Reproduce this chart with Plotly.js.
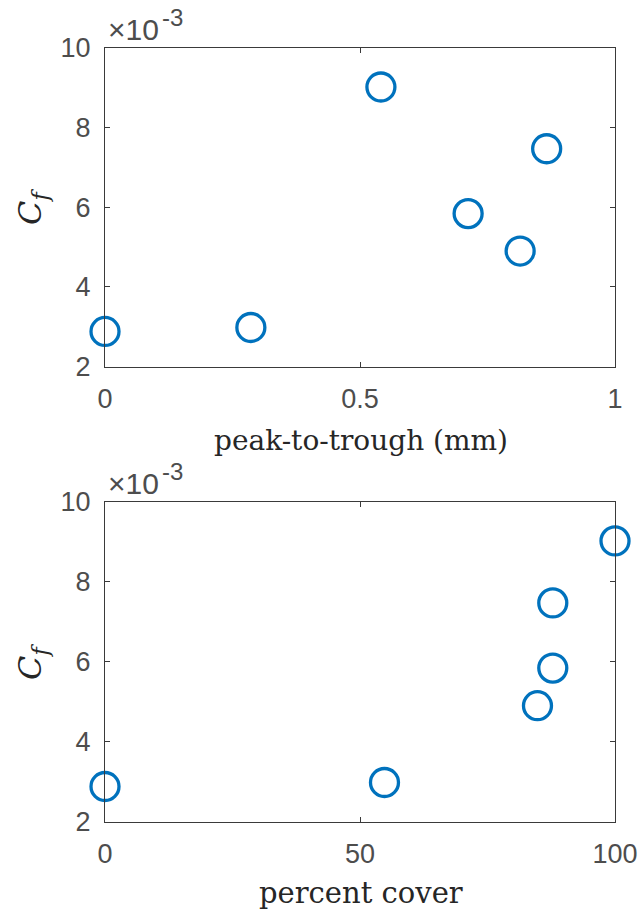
<!DOCTYPE html>
<html>
<head>
<meta charset="utf-8">
<script src="https://cdn.plot.ly/plotly-3.0.1.min.js"></script>
<style>html,body{margin:0;padding:0;background:#fff;}</style>
</head>
<body>
<div id="chart" style="width:644px;height:915px;"></div>
<script>
// Data
const peakToTrough = [0, 0.286, 0.541, 0.712, 0.814, 0.866];   // mm
const percentCover = [0, 54.8, 100, 87.8, 84.8, 87.8];          // %
const Cf = [0.00288, 0.00298, 0.00902, 0.00584, 0.00490, 0.00747];

const yTickVals = [0.002, 0.004, 0.006, 0.008, 0.010];
const yTickText = ['2', '4', '6', '8', '10'];
const x1TickVals = [0, 0.5, 1];
const x1TickText = ['0', '0.5', '1'];
const x2TickVals = [0, 50, 100];
const x2TickText = ['0', '50', '100'];

const W = 644, H = 915;
const px = v => v / W;
const py = v => 1 - v / H;

const blue = '#0072BD';
const axCol = '#3a3a3a';
const sans = 'Liberation Sans, Arial, sans-serif';
const tickFont = {family: sans, size: 27, color: '#4d4d4d'};
const serif = 'DejaVu Serif, serif';

const marker = {symbol: 'circle-open', size: 28, color: blue, line: {color: blue, width: 3.3}};

const traces = [
  {x: peakToTrough, y: Cf, xaxis: 'x', yaxis: 'y', type: 'scatter', mode: 'markers', marker: marker, cliponaxis: false, showlegend: false},
  {x: percentCover, y: Cf, xaxis: 'x2', yaxis: 'y2', type: 'scatter', mode: 'markers', marker: marker, cliponaxis: false, showlegend: false}
];

function xaxis(dom, anchor, vals, text, range) {
  return {domain: dom, anchor: anchor, range: range, tickmode: 'array', tickvals: vals, ticktext: text,
    ticks: 'inside', ticklen: 5, tickwidth: 1, tickcolor: axCol, showline: true, linecolor: axCol, linewidth: 1,
    mirror: 'allticks', showgrid: false, zeroline: false, tickfont: tickFont, ticklabelstandoff: 8, fixedrange: true};
}
function yaxis(dom, anchor) {
  return {domain: dom, anchor: anchor, range: [0.002, 0.010], tickmode: 'array', tickvals: yTickVals, ticktext: yTickText,
    ticks: 'inside', ticklen: 5, tickwidth: 1, tickcolor: axCol, showline: true, linecolor: axCol, linewidth: 1,
    mirror: 'allticks', showgrid: false, zeroline: false, tickfont: tickFont, ticklabelstandoff: 8, fixedrange: true};
}

function expAnn(off) {
  return [
    {xref: 'paper', yref: 'paper', x: px(106), y: py(off + 48), text: '×10', showarrow: false,
     xanchor: 'left', yanchor: 'bottom', font: {family: sans, size: 30, color: '#4d4d4d'}},
    {xref: 'paper', yref: 'paper', x: px(160), y: py(off + 33), text: '-3', showarrow: false,
     xanchor: 'left', yanchor: 'bottom', font: {family: sans, size: 24, color: '#4d4d4d'}}
  ];
}

const xDom = [px(105), px(615)];
const layout = {
  width: W, height: H,
  margin: {l: 0, r: 0, t: 0, b: 0},
  paper_bgcolor: '#fff', plot_bgcolor: '#fff',
  xaxis: xaxis(xDom, 'y', x1TickVals, x1TickText, [0, 1]),
  yaxis: yaxis([py(366.5), py(48)], 'x'),
  xaxis2: xaxis(xDom, 'y2', x2TickVals, x2TickText, [0, 100]),
  yaxis2: yaxis([py(821.7), py(501.7)], 'x2'),
  annotations: [
    {xref: 'paper', yref: 'paper', x: px(361), y: py(440), text: 'peak-to-trough (mm)', showarrow: false,
     xanchor: 'center', yanchor: 'middle', font: {family: serif, size: 28, color: '#262626'}},
    {xref: 'paper', yref: 'paper', x: px(361), y: py(893), text: 'percent cover', showarrow: false,
     xanchor: 'center', yanchor: 'middle', font: {family: serif, size: 29, color: '#262626'}},
    {xref: 'paper', yref: 'paper', x: px(32), y: py(207), text: '<i>C</i><sub><i>f</i></sub>', showarrow: false, textangle: -90,
     xanchor: 'center', yanchor: 'middle', font: {family: serif, size: 32, color: '#262626'}},
    {xref: 'paper', yref: 'paper', x: px(32), y: py(662), text: '<i>C</i><sub><i>f</i></sub>', showarrow: false, textangle: -90,
     xanchor: 'center', yanchor: 'middle', font: {family: serif, size: 32, color: '#262626'}}
  ].concat(expAnn(0), expAnn(453.7))
};

Plotly.newPlot('chart', traces, layout, {displayModeBar: false, staticPlot: true});
</script>
</body>
</html>
